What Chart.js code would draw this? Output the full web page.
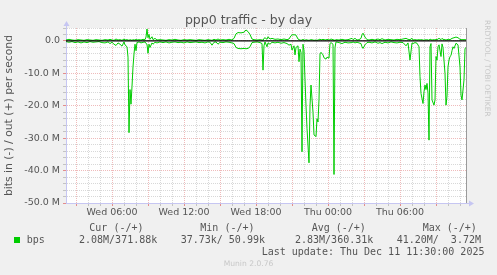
<!DOCTYPE html>
<html>
<head>
<meta charset="utf-8">
<script src="https://cdn.jsdelivr.net/npm/chart.js@4.4.1/dist/chart.umd.min.js"></script>
<style>
html,body{margin:0;padding:0;background:#f0f0f0;}
#wrap{position:relative;width:497px;height:275px;overflow:hidden;background:#f0f0f0;}
#c{position:absolute;left:0;top:0;}
.txt{position:absolute;white-space:pre;margin:0;}
.mono{font-family:"DejaVu Sans Mono",monospace;font-size:10px;line-height:12px;color:#555;}
#title{left:0;width:497px;top:12.5px;text-align:center;font-family:"DejaVu Sans",sans-serif;font-size:12.5px;line-height:14px;color:#555;}
#munin{left:0;width:497px;text-align:center;top:258.9px;font-family:"DejaVu Sans",sans-serif;font-size:7.6px;line-height:9px;color:#c8c8c8;}
#rrd{left:492px;top:20px;transform-origin:0 0;transform:rotate(90deg);font-family:"DejaVu Sans",sans-serif;font-size:7.5px;line-height:9px;color:#c8c8c8;}
.sw{position:absolute;left:14px;top:237px;width:6px;height:6px;background:#00cc00;}
</style>
</head>
<body>
<div id="wrap">
<canvas id="c" width="497" height="275"></canvas>
<div id="title" class="txt">ppp0 traffic - by day</div>
<div id="rrd" class="txt">RRDTOOL / TOBI OETIKER</div>
<div class="txt mono" style="left:89.3px;top:221.5px">Cur (-/+)</div>
<div class="txt mono" style="left:200.3px;top:221.5px">Min (-/+)</div>
<div class="txt mono" style="left:311.7px;top:221.5px">Avg (-/+)</div>
<div class="txt mono" style="left:422.7px;top:221.5px">Max (-/+)</div>
<div class="sw"></div>
<div class="txt mono" style="left:26.7px;top:233.5px">bps</div>
<div class="txt mono" style="left:79px;top:233.5px">2.08M/371.88k</div>
<div class="txt mono" style="left:180.7px;top:233.5px">37.73k/ 50.99k</div>
<div class="txt mono" style="left:295px;top:233.5px">2.83M/360.31k</div>
<div class="txt mono" style="left:396.7px;top:233.5px">41.20M/  3.72M</div>
<div class="txt mono" style="left:261.7px;top:245.5px">Last update: Thu Dec 11 11:30:00 2025</div>
<div id="munin" class="txt">Munin 2.0.76</div>
</div>
<script>
// time in minutes since Wed 00:00 (5-minute samples)
const minutes = [130,145,160,175,190,205,220,235,250,265,280,295,310,325,340,350,360,370,380,390,400,410,420,425,435,440,445,450,455,460,465,470,475,480,485,495,505,515,525,530,535,540,545,550,560,565,575,585,600,615,630,645,660,675,690,705,720,735,750,765,780,795,810,825,840,850,860,870,880,890,900,915,930,945,960,970,980,990,1005,1020,1030,1040,1050,1060,1070,1085,1100,1110,1115,1120,1125,1135,1140,1150,1160,1175,1190,1205,1220,1235,1245,1255,1260,1270,1275,1280,1290,1295,1300,1305,1310,1315,1320,1325,1330,1335,1345,1350,1355,1365,1370,1380,1385,1390,1395,1400,1405,1415,1420,1430,1435,1445,1450,1455,1465,1470,1475,1480,1495,1510,1525,1540,1560,1565,1575,1585,1595,1605,1610,1615,1625,1635,1645,1660,1675,1690,1700,1710,1725,1740,1755,1770,1785,1800,1815,1830,1840,1850,1860,1865,1875,1885,1895,1900,1905,1915,1920,1925,1930,1935,1940,1945,1950,1955,1960,1970,1975,1980,1985,1990,1995,2005,2010,2015,2025,2030,2035,2040,2045,2050,2055,2060,2065,2070,2080,2090,2100,2105,2110,2120,2125,2130];
// bits in (Mbit/s, drawn negative)
const inMbps = [-0.2,-0.4,-0.2,-0.5,-0.3,-0.6,-0.3,-0.5,-0.2,-0.4,-0.3,-0.2,-0.5,-0.6,-0.3,-0.8,-0.4,-1.0,-1.4,-0.6,-1.0,-1.6,-0.3,-1.2,-1.8,-5.0,-28.3,-15.0,-19.5,-14.0,-8.0,-4.0,-1.0,-3.0,-0.5,-0.3,-0.6,-0.4,-0.3,-0.8,-1.0,-3.8,-1.0,-2.0,-0.6,-1.0,-0.4,-0.6,-0.3,-0.5,-0.3,-0.6,-0.4,-0.3,-0.5,-0.4,-0.6,-0.3,-0.5,-0.4,-0.3,-0.5,-0.4,-0.6,-0.3,-0.4,-1.3,-0.4,-0.3,-1.0,-0.4,-0.5,-0.3,-0.4,-0.6,-0.8,-2.0,-2.3,-2.4,-2.3,-2.4,-2.3,-1.8,-0.5,-0.4,-0.3,-0.5,-0.8,-9.0,-1.5,-0.3,-1.8,-0.6,-1.0,-0.4,-0.6,-0.4,-0.7,-0.5,-0.8,-1.3,-1.0,-2.8,-1.5,-4.3,-2.0,-1.5,-6.4,-2.5,-3.5,-34.2,-1.0,-3.0,-12.0,-20.0,-27.0,-37.6,-20.0,-13.6,-22.0,-29.0,-29.5,-24.0,-25.0,-18.0,-4.0,-3.5,-4.3,-5.2,-5.6,-5.0,-5.3,-0.8,-0.5,-1.0,-41.2,-2.0,-0.3,-0.5,-0.8,-0.4,-0.6,-0.5,-0.3,-0.6,-0.4,-0.6,-0.8,-1.8,-2.3,-1.2,-0.5,-0.4,-0.6,-0.3,-0.7,-0.5,-0.8,-0.4,-0.6,-0.3,-0.5,-0.6,-0.4,-0.5,-1.5,-0.6,-5.9,-0.6,-0.8,-0.5,-0.7,-1.8,-11.0,-16.2,-19.3,-15.7,-13.6,-15.0,-13.1,-16.0,-30.6,-1.8,-0.8,-18.2,-19.8,-18.2,-4.8,-5.9,-1.8,-1.2,-4.8,-0.9,-2.0,-10.0,-19.8,-17.0,-8.0,-5.9,-4.8,-4.5,-3.0,-1.8,-2.3,-0.7,-1.2,-8.0,-16.7,-18.2,-12.0,-2.3,-2.08];
// bits out (Mbit/s)
const outMbps = [0.3,0.5,0.3,0.2,0.4,0.3,0.2,0.4,0.3,0.2,0.4,0.3,0.2,0.4,0.3,0.5,0.3,0.2,0.6,0.3,0.4,0.2,0.6,0.3,0.4,0.3,0.2,0.4,0.3,0.2,0.4,0.3,0.3,0.5,0.3,0.4,0.3,0.5,0.4,1.2,3.7,1.0,2.0,0.5,1.3,0.4,0.8,0.3,0.4,0.3,0.2,0.4,0.3,0.5,0.3,0.2,0.4,0.3,0.4,0.3,0.2,0.4,0.3,0.2,0.4,0.3,0.2,0.5,0.3,0.6,0.3,0.4,0.3,0.5,0.3,0.8,2.2,2.6,2.5,2.7,3.4,2.9,2.0,0.6,0.4,0.3,0.4,0.3,0.2,0.8,1.0,0.5,1.3,0.6,0.8,0.5,0.6,0.4,0.6,0.4,0.6,1.6,1.9,1.9,1.9,1.8,0.6,0.4,0.3,0.2,0.3,0.5,0.3,0.2,0.4,0.3,0.2,0.3,0.4,0.3,0.2,0.3,0.2,0.3,0.4,0.6,0.3,0.5,0.4,0.3,0.5,0.3,0.4,0.6,0.4,0.3,0.2,0.4,0.3,0.5,0.3,0.4,0.8,0.4,0.8,0.3,0.4,0.8,1.9,2.4,1.2,0.4,0.3,0.5,0.3,0.6,0.4,0.7,0.3,0.5,0.4,0.3,0.5,0.4,0.6,0.8,0.5,0.4,0.8,0.3,0.4,0.3,0.4,0.3,0.4,0.3,0.2,0.4,0.3,0.4,0.3,0.2,0.6,0.4,0.3,0.4,0.3,0.5,0.4,0.6,0.8,0.4,0.8,0.5,0.4,0.3,0.4,0.5,0.5,0.4,0.6,0.8,0.9,1.0,1.2,1.0,0.5,0.4,0.4,0.4,0.4,0.37];

const xRange = [130, 2130];
const yRange = [-50, 4];
const xTickValues = [360, 720, 1080, 1440, 1800];
const xTickLabels = ['Wed 06:00', 'Wed 12:00', 'Wed 18:00', 'Thu 00:00', 'Thu 06:00'];
const yTickValues = [0, -10, -20, -30, -40, -50];
const yTickLabels = ['0.0', '-10.0 M', '-20.0 M', '-30.0 M', '-40.0 M', '-50.0 M'];
const yAxisTitle = 'bits in (-) / out (+) per second';

const GREEN = '#00cc00';
const MINOR = 'rgba(200,200,200,0.7)';
const MAJOR = 'rgba(230,150,150,0.65)';
const MINOR_TICK = 'rgba(190,190,190,0.9)';
const MAJOR_TICK = 'rgba(225,130,130,0.9)';
const AXIS = '#c6c6f2';
const FONT = 'DejaVu Sans';

const toPts = arr => arr.map((v, i) => ({x: minutes[i], y: v}));

const frame = {
  id: 'frame',
  beforeDraw(chart) {
    const {ctx, chartArea: a} = chart;
    ctx.save();
    ctx.fillStyle = '#ffffff';
    ctx.fillRect(a.left, a.top, a.right - a.left, a.bottom - a.top);
    ctx.restore();
  },
  afterDraw(chart) {
    const {ctx, chartArea: a} = chart;
    ctx.save();
    ctx.strokeStyle = '#9a9a9a';
    ctx.lineWidth = 1;
    ctx.beginPath();
    ctx.moveTo(a.right + 0.5, a.top);
    ctx.lineTo(a.right + 0.5, a.bottom);
    ctx.stroke();
    ctx.strokeStyle = AXIS;
    ctx.fillStyle = AXIS;
    ctx.beginPath();
    ctx.moveTo(a.left + 0.5, a.top);
    ctx.lineTo(a.left + 0.5, a.top - 4);
    ctx.moveTo(a.right, a.bottom + 0.5);
    ctx.lineTo(a.right + 4, a.bottom + 0.5);
    ctx.stroke();
    ctx.beginPath();
    ctx.moveTo(a.left + 0.5, a.top - 7);
    ctx.lineTo(a.left - 2.5, a.top - 2);
    ctx.lineTo(a.left + 3.5, a.top - 2);
    ctx.closePath();
    ctx.fill();
    ctx.beginPath();
    ctx.moveTo(a.right + 8, a.bottom + 0.5);
    ctx.lineTo(a.right + 3, a.bottom - 2.5);
    ctx.lineTo(a.right + 3, a.bottom + 3.5);
    ctx.closePath();
    ctx.fill();
    ctx.restore();
  }
};

new Chart(document.getElementById('c'), {
  type: 'line',
  data: {
    datasets: [
      {label: 'zero', data: [{x: xRange[0], y: 0}, {x: xRange[1], y: 0}], borderColor: '#000000', borderWidth: 1.2, pointRadius: 0},
      {label: 'in', data: toPts(inMbps), borderColor: GREEN, borderWidth: 1, pointRadius: 0, tension: 0},
      {label: 'out', data: toPts(outMbps), borderColor: GREEN, borderWidth: 1, pointRadius: 0, tension: 0}
    ]
  },
  options: {
    responsive: false,
    animation: false,
    events: [],
    layout: {padding: {left: 0, right: 31, top: 28, bottom: 52}},
    plugins: {legend: {display: false}, tooltip: {enabled: false}, title: {display: false}},
    scales: {
      x: {
        type: 'linear',
        min: xRange[0], max: xRange[1],
        afterBuildTicks: s => { const t = []; for (let v = 180; v <= xRange[1]; v += 60) t.push({value: v}); s.ticks = t; },
        afterFit: s => { s.height = 20; },
        grid: {
          color: c => (c.tick && c.tick.value % 180 === 0) ? MAJOR : MINOR,
          tickColor: c => (c.tick && c.tick.value % 180 === 0) ? MAJOR_TICK : MINOR_TICK,
          lineWidth: 1, tickLength: 3, drawTicks: true
        },
        border: {display: true, color: AXIS, width: 1, dash: [1, 1]},
        ticks: {
          autoSkip: false, maxRotation: 0, padding: 1, color: '#555',
          font: {family: FONT, size: 9.5},
          callback: v => { const i = xTickValues.indexOf(v); return i >= 0 ? xTickLabels[i] : ''; }
        }
      },
      y: {
        type: 'linear',
        min: yRange[0], max: yRange[1],
        afterBuildTicks: s => { const t = []; for (let v = yRange[0]; v <= yRange[1]; v += 2) t.push({value: v}); s.ticks = t; },
        afterFit: s => { s.width = 66; },
        grid: {
          color: c => (c.tick && c.tick.value % 10 === 0) ? MAJOR : MINOR,
          tickColor: c => (c.tick && c.tick.value % 10 === 0) ? MAJOR_TICK : MINOR_TICK,
          lineWidth: 1, tickLength: 3, drawTicks: true
        },
        border: {display: true, color: AXIS, width: 1, dash: [1, 1]},
        title: {display: true, text: yAxisTitle, color: '#555', font: {family: FONT, size: 10.8}, padding: {top: 3, bottom: 0}},
        ticks: {
          autoSkip: false, padding: 3, color: '#555',
          font: {family: FONT, size: 9.5},
          callback: v => { const i = yTickValues.indexOf(v); return i >= 0 ? yTickLabels[i] : ''; }
        }
      }
    }
  },
  plugins: [frame]
});
</script>
</body>
</html>
